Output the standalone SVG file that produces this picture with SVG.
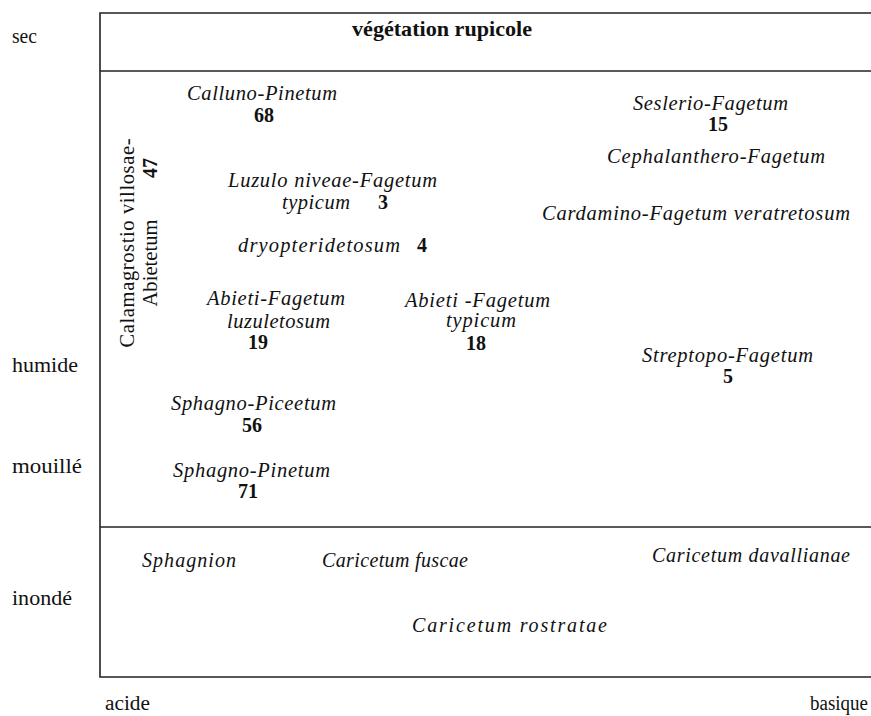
<svg xmlns="http://www.w3.org/2000/svg" width="871" height="716" viewBox="0 0 871 716">
<style>
text{font-family:"Liberation Serif","Times New Roman",serif;fill:#111;}
.ax{font-size:20.5px;}
.it{font-size:20.5px;font-style:italic;}
.nb{font-size:20px;font-weight:bold;text-anchor:middle;}
.bt{font-size:20px;font-style:italic;}
.rt{font-size:20.5px;text-anchor:middle;}
.ln{stroke:#222;stroke-width:1.6;fill:none;}
</style>
<g id="frame">
<path class="ln" d="M871,13 H100 V677 H871"/>
<line class="ln" x1="100" y1="71" x2="871" y2="71"/>
<line class="ln" x1="100" y1="527" x2="871" y2="527"/>
</g>
<g id="axis-labels">
<text class="ax" x="12" y="43" textLength="25" lengthAdjust="spacingAndGlyphs">sec</text>
<text class="ax" x="12" y="372" textLength="66" lengthAdjust="spacingAndGlyphs">humide</text>
<text class="ax" x="12" y="473" textLength="70" lengthAdjust="spacingAndGlyphs">mouillé</text>
<text class="ax" x="12" y="605" textLength="60" lengthAdjust="spacingAndGlyphs">inondé</text>
<text class="ax" x="105" y="710" textLength="45" lengthAdjust="spacingAndGlyphs">acide</text>
<text class="ax" x="810" y="710" textLength="58" lengthAdjust="spacingAndGlyphs">basique</text>
</g>
<g id="rupicole"><text x="352" y="36" style="font-size:21px;font-weight:bold" textLength="180" lengthAdjust="spacingAndGlyphs">végétation rupicole</text></g>
<g id="calluno"><text class="it" x="187" y="100" textLength="150">Calluno-Pinetum</text><text class="nb" x="264" y="122">68</text></g>
<g id="seslerio"><text class="it" x="633" y="110" textLength="155">Seslerio-Fagetum</text><text class="nb" x="718" y="131">15</text></g>
<g id="cephalanthero"><text class="it" x="607" y="163" textLength="218">Cephalanthero-Fagetum</text></g>
<g id="luzulo"><text class="it" x="228" y="187" textLength="209">Luzulo niveae-Fagetum</text><text class="it" x="282" y="209" textLength="68">typicum</text><text class="nb" x="383" y="209">3</text></g>
<g id="cardamino"><text class="it" x="542" y="220" textLength="308">Cardamino-Fagetum veratretosum</text></g>
<g id="dryopteridetosum"><text class="it" x="238" y="252" textLength="162">dryopteridetosum</text><text class="nb" x="422" y="252">4</text></g>
<g id="calamagrostio"><text class="rt" transform="translate(134,243) rotate(-90)" textLength="209">Calamagrostio villosae-</text><text class="rt" transform="translate(157,263) rotate(-90)" textLength="87">Abietetum</text><text class="rt" style="font-weight:bold;font-size:20px" transform="translate(157,168) rotate(-90)">47</text></g>
<g id="abieti-luz"><text class="it" x="207" y="305" textLength="138">Abieti-Fagetum</text><text class="it" x="227" y="328" textLength="103">luzuletosum</text><text class="nb" x="258" y="349">19</text></g>
<g id="abieti-typ"><text class="it" x="405" y="307" textLength="145">Abieti -Fagetum</text><text class="it" x="446" y="327" textLength="70">typicum</text><text class="nb" x="476" y="350">18</text></g>
<g id="streptopo"><text class="it" x="642" y="362" textLength="171">Streptopo-Fagetum</text><text class="nb" x="728" y="383">5</text></g>
<g id="sph-piceetum"><text class="it" x="171" y="410" textLength="165">Sphagno-Piceetum</text><text class="nb" x="252" y="432">56</text></g>
<g id="sph-pinetum"><text class="it" x="173" y="477" textLength="157">Sphagno-Pinetum</text><text class="nb" x="248" y="498">71</text></g>
<g id="sphagnion"><text class="bt" x="142" y="567" textLength="94">Sphagnion</text></g>
<g id="fuscae"><text class="bt" x="322" y="567" textLength="146">Caricetum fuscae</text></g>
<g id="davallianae"><text class="bt" x="652" y="562" textLength="198">Caricetum davallianae</text></g>
<g id="rostratae"><text class="bt" x="412" y="632" textLength="195">Caricetum rostratae</text></g>
</svg>
